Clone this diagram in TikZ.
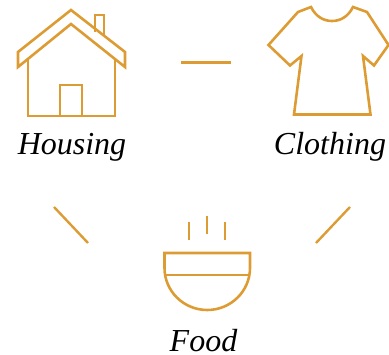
\documentclass[tikz,border=0pt]{standalone}
\usepackage{fontspec}
\setmainfont{Liberation Serif}
\definecolor{ochre}{HTML}{DD9C33}
\tikzset{icon/.style={draw=ochre,line width=2.6pt,line join=miter},
  link/.style={draw=ochre,line width=2.4pt},
  label/.style={font=\fontsize{32}{36}\selectfont\itshape,text=black,inner sep=0pt,anchor=base}}
\begin{document}
\begin{tikzpicture}[x=1pt,y=-1pt]
\useasboundingbox (0,0) rectangle (389,355);
% house
\draw[icon] (18,52) -- (71,10) -- (125,52) -- (125,67) -- (71,24) -- (18,67) -- cycle;
\draw[icon] (28,59) -- (28,116) -- (115,116) -- (115,59);
\draw[icon] (60,116) -- (60,85) -- (82,85) -- (82,116);
\draw[icon] (95,32) -- (95,15) -- (104,15) -- (104,36);
% shirt
\draw[icon] (268.5,45) -- (298,12) -- (311,7) .. controls (316,17) and (324,21) .. (332,21) .. controls (340,21) and (348,17) .. (353,7) -- (367,12) -- (388.5,45) -- (374,65.5) -- (363,56) -- (370.5,114.5) -- (294,114.5) -- (301.5,56) -- (290,65.5) -- cycle;
% bowl
\draw[icon] (164.5,253) -- (250,253) -- (250,268) .. controls (250,291) and (231,310) .. (207.25,310) .. controls (183.5,310) and (164.5,291) .. (164.5,268) -- cycle;
\draw[icon] (166,275) -- (248.5,275);
\draw[icon] (189,222) -- (189,240);
\draw[icon] (207,216) -- (207,234);
\draw[icon] (225,222) -- (225,240);
% labels
\node[label] (housing) at (72,155) {Housing};
\node[label] (clothing) at (330,155) {Clothing};
\node[label] (food) at (203.5,352) {Food};
% connectors
\coordinate (a1) at (181,62.5); \coordinate (a2) at (231,62.5);
\coordinate (b1) at (54,207); \coordinate (b2) at (88,243);
\coordinate (c1) at (350,207); \coordinate (c2) at (316,243);
\draw[link] (a1) -- (a2);
\draw[link] (b1) -- (b2);
\draw[link] (c1) -- (c2);
\end{tikzpicture}
\end{document}
